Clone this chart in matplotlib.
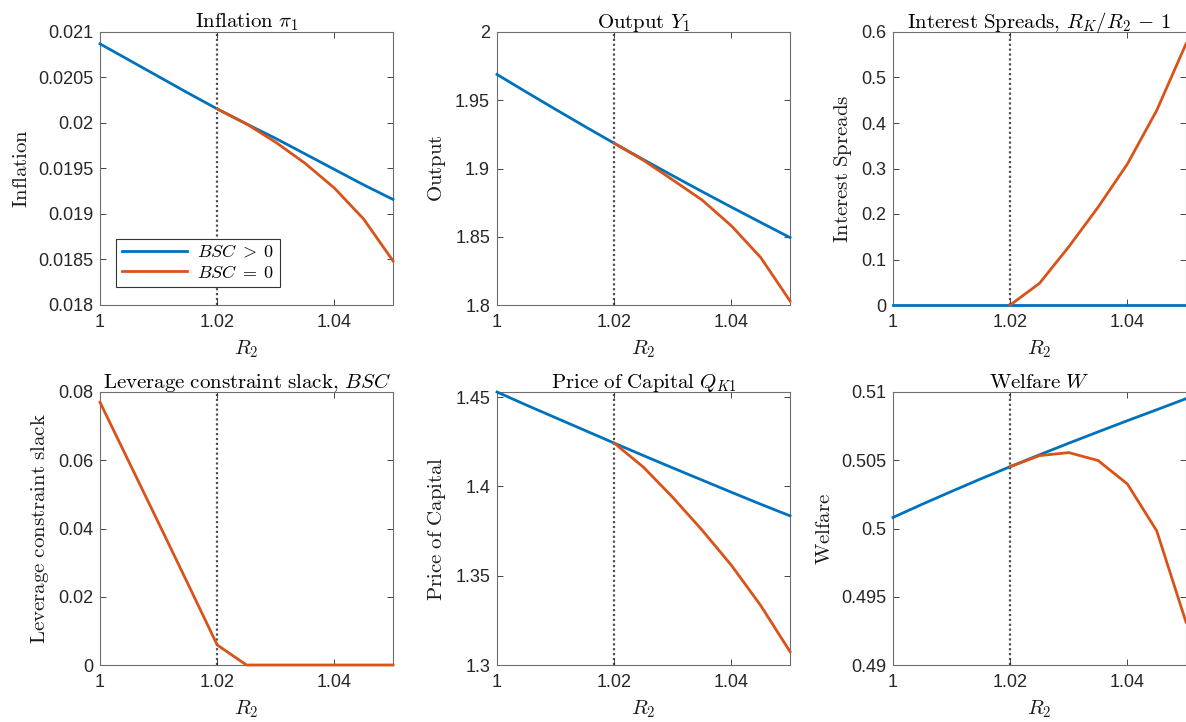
import matplotlib
matplotlib.use('Agg')
import matplotlib.pyplot as plt
from matplotlib.ticker import FuncFormatter, MultipleLocator, FixedLocator

plt.rcParams['font.family'] = ['Liberation Sans', 'DejaVu Sans']
plt.rcParams['mathtext.fontset'] = 'cm'

# ---------------- data ----------------
R2 = [1.000, 1.005, 1.010, 1.015, 1.020, 1.025, 1.030, 1.035, 1.040, 1.045, 1.050]
R2_bind = [1.020, 1.025, 1.030, 1.035, 1.040, 1.045, 1.050]

infl_pos = [0.02087, 0.02069, 0.02051, 0.02033, 0.020155, 0.01999, 0.01983, 0.01966, 0.01949, 0.01932, 0.01916]
infl_zero = [0.020155, 0.01999, 0.019788, 0.019557, 0.019285, 0.018944, 0.018485]

out_pos = [1.9689, 1.9560, 1.9433, 1.9308, 1.9185, 1.9065, 1.8947, 1.8831, 1.8717, 1.8605, 1.8494]
out_zero = [1.9185, 1.9060, 1.8916, 1.8769, 1.8580, 1.8348, 1.8030]

spread_pos = [0, 0, 0, 0, 0, 0, 0, 0, 0, 0, 0]
spread_zero = [0.0, 0.0477, 0.128, 0.215, 0.310, 0.4276, 0.574]

bsc_zero = [0.0770, 0.0593, 0.0416, 0.0238, 0.00587, 0.0, 0.0, 0.0, 0.0, 0.0, 0.0]

qk_pos = [1.4528, 1.4455, 1.4384, 1.4313, 1.4242, 1.4172, 1.4103, 1.4035, 1.3967, 1.3900, 1.3835]
qk_zero = [1.4242, 1.4107, 1.3938, 1.3755, 1.3558, 1.3333, 1.3075]

welf_pos = [0.50081, 0.50178, 0.50272, 0.50364, 0.50453, 0.50540, 0.50625, 0.50708, 0.50790, 0.50870, 0.50951]
welf_zero = [0.50453, 0.50534, 0.50556, 0.50498, 0.50326, 0.49983, 0.49314]

titles = [r'$\mathrm{Inflation}\ \pi_1$', r'$\mathrm{Output}\ Y_1$',
          r'$\mathrm{Interest\ Spreads,}\,R_K/R_2\,-\,1$',
          r'$\mathrm{Leverage\ constraint\ slack,}\,BSC$',
          r'$\mathrm{Price\ of\ Capital}\ Q_{K1}$', r'$\mathrm{Welfare}\ W$']
ylabels = [r'$\mathrm{Inflation}$', r'$\mathrm{Output}$', r'$\mathrm{Interest\ Spreads}$',
           r'$\mathrm{Leverage\ constraint\ slack}$', r'$\mathrm{Price\ of\ Capital}$',
           r'$\mathrm{Welfare}$']
ylims = [(0.018, 0.021), (1.8, 2.0), (0.0, 0.6), (0.0, 0.08), (1.3, 1.4528), (0.49, 0.51)]
ysteps = [0.0005, 0.05, 0.1, 0.02, 0.05, 0.005]
xticks = [1.0, 1.02, 1.04]
legend_labels = [r'$BSC\;>\;0$', r'$BSC\;=\;0$']

BLUE = '#0072BD'
ORANGE = '#D95319'
AXC = '#262626'

fig = plt.figure(figsize=(11.86, 7.22), dpi=100)
W, H = 1186.0, 722.0
lefts = [100, 497, 893]
tops = [32, 392]
aw, ah = 293, 273

axes = []
for r in range(2):
    for c in range(3):
        ax = fig.add_axes([lefts[c] / W, 1 - (tops[r] + ah) / H, aw / W, ah / H])
        axes.append(ax)

fmt = FuncFormatter(lambda v, p: f'{round(v, 6):g}')

series = [
    (infl_pos, infl_zero),
    (out_pos, out_zero),
    (spread_pos, spread_zero),
    (None, bsc_zero),
    (qk_pos, qk_zero),
    (welf_pos, welf_zero),
]

for i, ax in enumerate(axes):
    pos, zero = series[i]
    ax.axvline(1.02, color='#505050', ls=(0, (1, 1.2)), lw=1.6, zorder=1)
    if pos is not None:
        lb, = ax.plot(R2, pos, color=BLUE, lw=2.0, clip_on=False, zorder=3)
    if i == 3:
        lo, = ax.plot(R2, zero, color=ORANGE, lw=2.0, clip_on=False, zorder=4)
    else:
        lo, = ax.plot(R2_bind, zero, color=ORANGE, lw=2.0, clip_on=False, zorder=4)
    ax.set_xlim(1.0, 1.05)
    ax.set_ylim(*ylims[i])
    ax.xaxis.set_major_locator(FixedLocator(xticks))
    ax.yaxis.set_major_locator(MultipleLocator(ysteps[i]))
    ax.xaxis.set_major_formatter(fmt)
    ax.yaxis.set_major_formatter(fmt)
    ax.tick_params(direction='in', top=True, right=True, length=4, width=0.6,
                   labelsize=13, colors=AXC, pad=5)
    ax.tick_params(axis='x', pad=6.5)
    for s in ax.spines.values():
        s.set_color('#6e6e6e')
        s.set_linewidth(0.8)
    ax.set_title(titles[i], fontsize=15, pad=3, color='black')
    ax.set_ylabel(ylabels[i], fontsize=15, labelpad=5, color='#1a1a1a')
    ax.set_xlabel(r'$R_2$', fontsize=15, labelpad=5, color='#1a1a1a')
    if i == 0:
        leg = ax.legend([lb, lo], legend_labels, loc='lower left',
                        bbox_to_anchor=(0.055, 0.066), borderaxespad=0,
                        fontsize=13, handlelength=3.6, fancybox=False,
                        framealpha=1, edgecolor='#333333', borderpad=0.3,
                        labelspacing=0.2, handletextpad=0.6)
        leg.get_frame().set_linewidth(0.8)

fig.savefig('out.png', dpi=100)
